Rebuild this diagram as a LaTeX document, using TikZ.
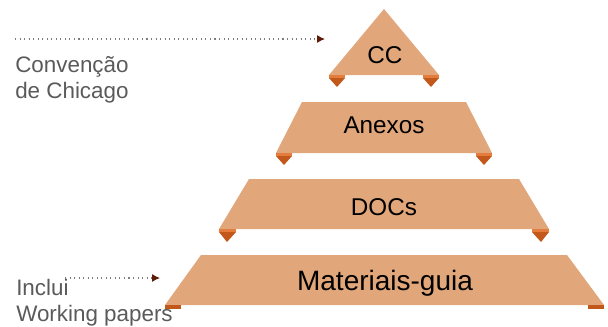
\documentclass[tikz,border=0pt]{standalone}
\usepackage{fontspec}
\setmainfont{Liberation Sans}
\usetikzlibrary{arrows.meta}

\begin{document}
\begin{tikzpicture}[x=0.75pt,y=0.75pt,yscale=-1,xscale=1,
  tier/.style={fill={rgb, 255:red, 225; green, 166; blue, 122}, draw=none},
  tabtop/.style={fill={rgb, 255:red, 228; green, 124; blue, 62}, draw=none},
  tabtip/.style={fill={rgb, 255:red, 194; green, 88; blue, 26}, draw=none},
  tiertext/.style={font=\fontsize{18.2}{21}\selectfont, anchor=base, inner sep=0},
  note/.style={font=\fontsize{16.8}{18.8}\selectfont, text={rgb, 255:red, 90; green, 90; blue, 90}, align=left, anchor=base west, inner sep=0},
  pointer/.style={draw={rgb, 255:red, 125; green, 125; blue, 125}, line width=0.8pt, dash pattern=on 0.8pt off 2.6pt, -{Latex[length=6pt, width=6pt, color={rgb, 255:red, 92; green, 28; blue, 8}]}}
]
\useasboundingbox (0,0) rectangle (608,326);

%Shape: Triangle [CC]
\draw [tier] (384,9) -- (439,75) -- (329,75) -- cycle ;
\draw [tabtop] (329,75) rectangle (345,78) ; \draw [tabtip] (329,78) -- (345,78) -- (337,87) -- cycle ;
\draw [tabtop] (423,75) rectangle (439,78) ; \draw [tabtip] (423,78) -- (439,78) -- (431,87) -- cycle ;
\node [tiertext] (cc) at (385,63) {CC};

%Shape: Trapezoid [Anexos]
\draw [tier] (302,102) -- (466,102) -- (492,153) -- (276,153) -- cycle ;
\draw [tabtop] (276,153) rectangle (292,156) ; \draw [tabtip] (276,156) -- (292,156) -- (284,165) -- cycle ;
\draw [tabtop] (476,153) rectangle (492,156) ; \draw [tabtip] (476,156) -- (492,156) -- (484,165) -- cycle ;
\node [tiertext] (anexos) at (384,133) {Anexos};

%Shape: Trapezoid [DOCs]
\draw [tier] (249,179) -- (519,179) -- (549,229) -- (219,229) -- cycle ;
\draw [tabtop] (219,229) rectangle (236,232) ; \draw [tabtip] (219,232) -- (236,232) -- (227,242) -- cycle ;
\draw [tabtop] (532,229) rectangle (549,232) ; \draw [tabtip] (532,232) -- (549,232) -- (541,242) -- cycle ;
\node [tiertext] (docs) at (384,215) {DOCs};

%Shape: Trapezoid [Materiais-guia]
\draw [tier] (201,255) -- (567,255) -- (604,305) -- (165,305) -- cycle ;
\draw [tabtip] (165,305) rectangle (181,309) ;
\draw [tabtip] (588,305) rectangle (604,309) ;
\node [tiertext, font=\fontsize{21}{25}\selectfont] (guia) at (385,290) {Materiais-guia};

%Text Nodes
\node [note] (chicago) at (15,98) {Convenção\\de Chicago};
\node [note] (wp) at (16,321) {Inclui\\Working papers};

%Straight Lines
\coordinate (ccfrom) at (15,39) ; \coordinate (ccto) at (325,39) ;
\draw [pointer] (ccfrom) -- (ccto) ;
\coordinate (wpfrom) at (65,278) ; \coordinate (wpto) at (160,278) ;
\draw [pointer] (wpfrom) -- (wpto) ;

\end{tikzpicture}
\end{document}
